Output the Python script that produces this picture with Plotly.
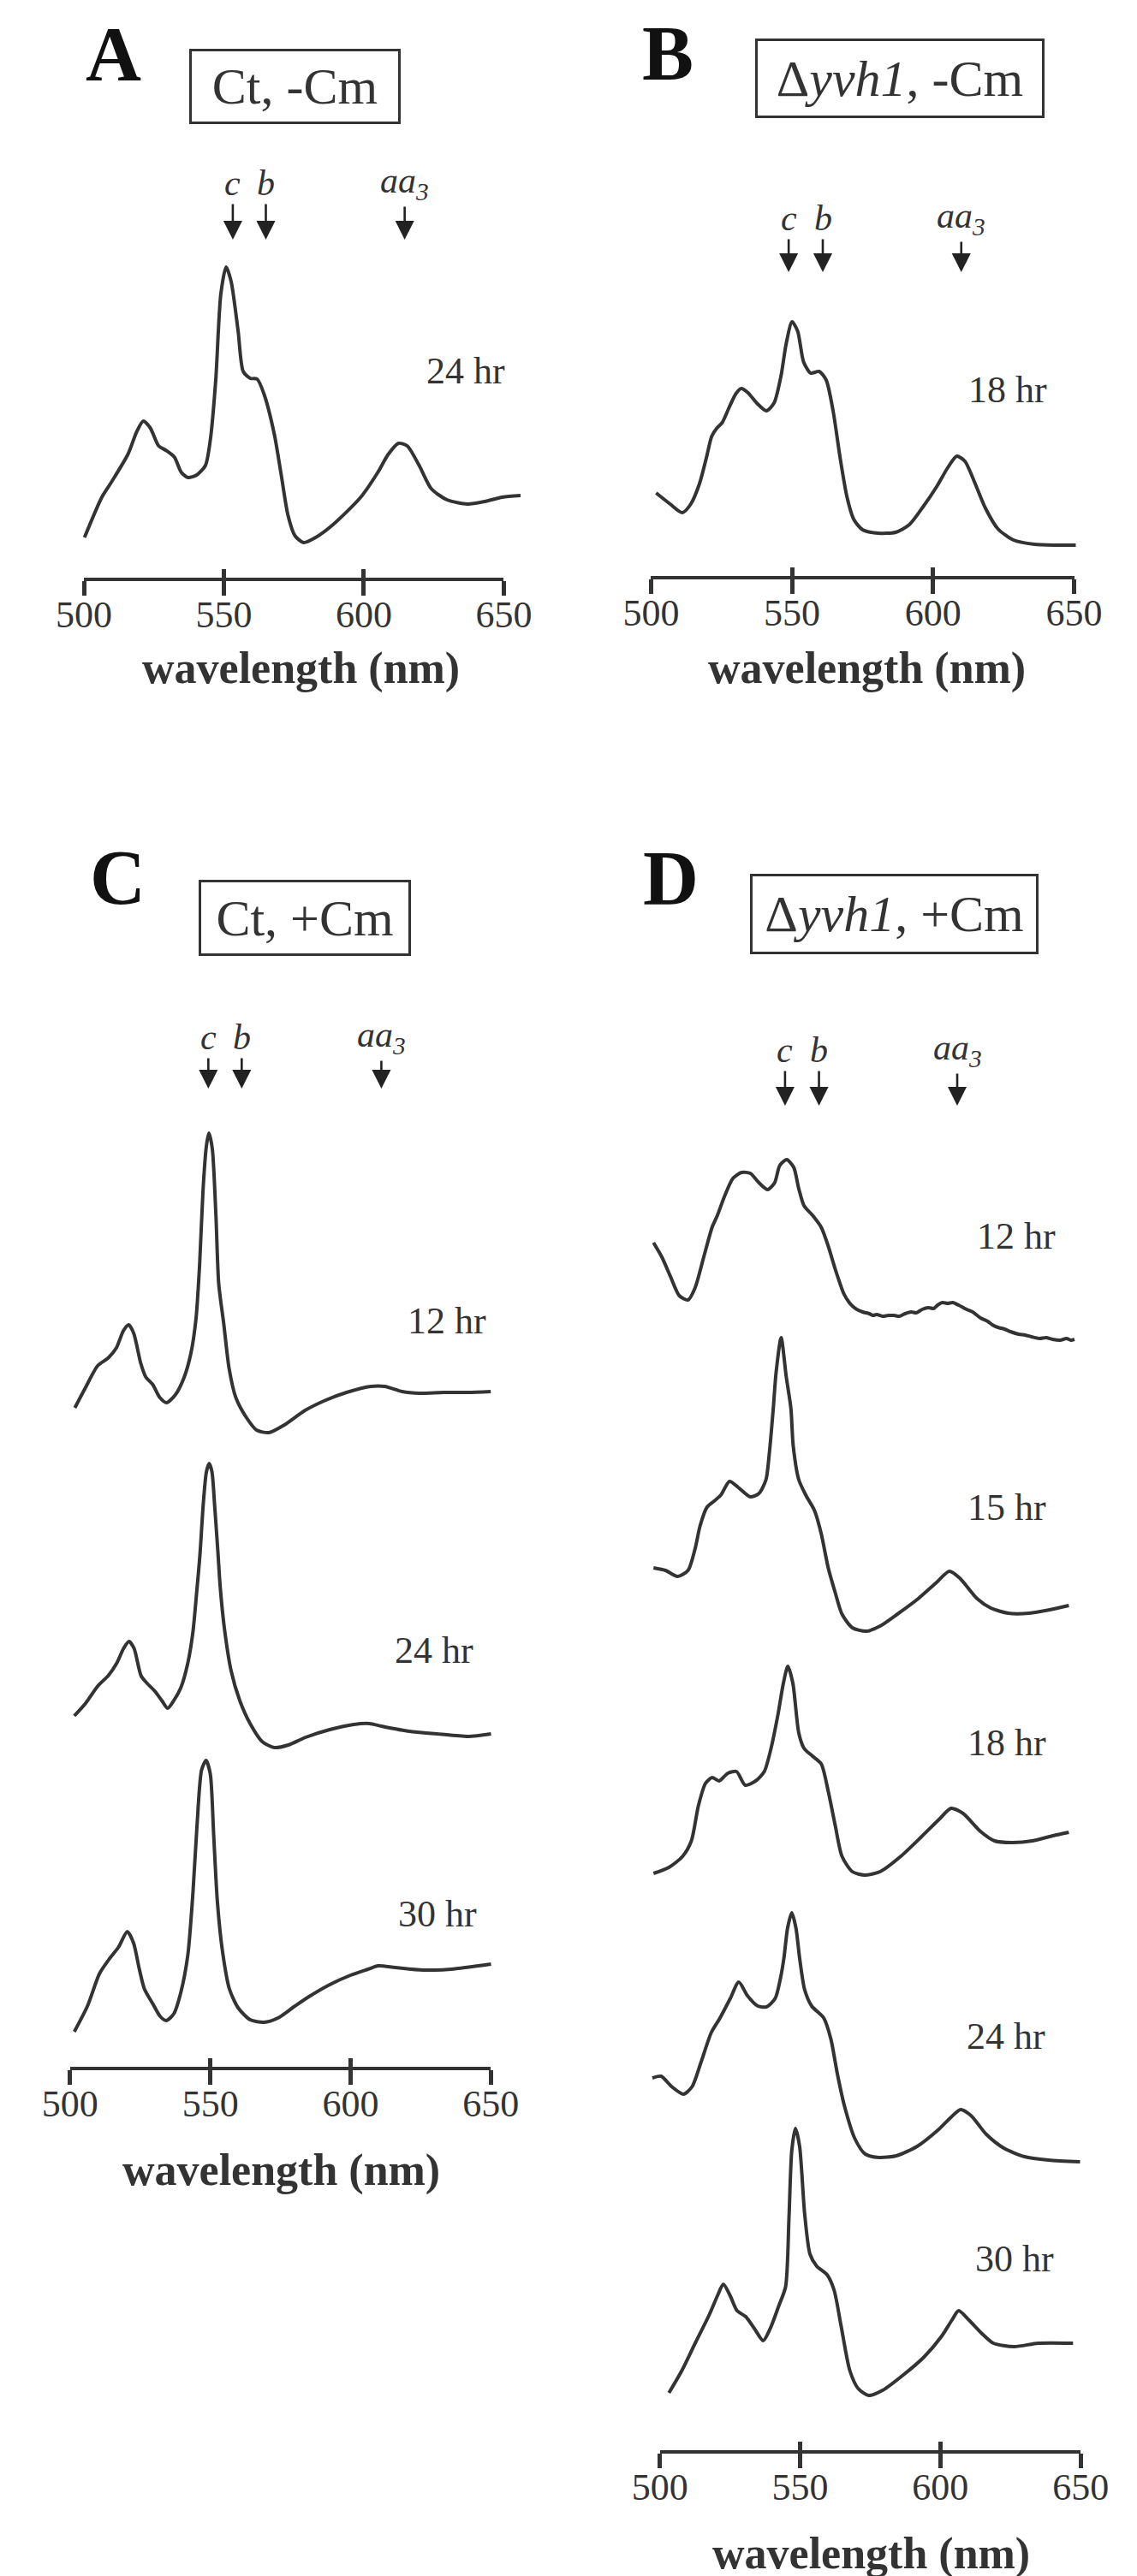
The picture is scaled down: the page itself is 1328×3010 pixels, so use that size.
import plotly.graph_objects as go

W, H = 1328, 3010
SERIF = "Liberation Serif, Times New Roman, serif"
INK = "#333333"

# ---------------- data ----------------
TICKS = [500, 550, 600, 650]
MARK_LABELS = ["<i>c</i>", "<i>b</i>", "<i>aa<sub>3</sub></i>"]

# Panel A : Ct, -Cm
A_TITLE = "Ct, -Cm"
A_MARKS = [553.2, 565.0, 614.6]
A_TIMES = ["24 hr"]
A24_WL = [500.2, 506.4, 509.5, 515.7, 518.8, 521.2, 523.7, 526.7, 529.2, 532.3, 534.8, 537.2, 540.3, 543.4,
          545.2, 547.1, 548.9, 550.8, 552.6, 555.1, 556.9, 559.4, 561.9, 564.3, 568.0, 570.5, 572.9, 575.4,
          578.5, 582.8, 589.0, 598.9, 605.0, 608.7, 612.4, 615.5, 619.8, 624.1, 629.7, 637.1, 643.2, 649.4, 656.0]
A24_ABS = [10, 57, 73, 107, 133, 146, 138, 117, 112, 104, 86, 80, 83, 94, 125, 194, 294, 326, 309, 251,
           204, 196, 195, 178, 131, 83, 36, 12, 4, 10, 25, 57, 86, 107, 120, 117, 94, 67, 54, 49, 52, 57, 59]

# Panel B : dyvh1, -Cm
B_TITLE = "\u0394<i>yvh1</i>, -Cm"
B_MARKS = [548.8, 560.9, 610.0]
B_TIMES = ["18 hr"]
B18_WL = [501.8, 506.8, 511.1, 514.1, 517.2, 519.7, 521.5, 523.4, 525.2, 527.7, 530.1, 532.0, 534.4, 537.5,
          540.9, 543.6, 546.1, 547.9, 550.0, 552.0, 554.1, 556.6, 559.6, 562.1, 564.6, 567.0, 569.5, 571.9,
          575.0, 580.5, 586.7, 591.6, 596.5, 601.4, 605.1, 608.4, 611.3, 614.9, 618.6, 623.0, 628.5, 635.9,
          643.3, 650.6]
B18_ABS = [67, 54, 44, 54, 78, 109, 133, 143, 149, 167, 183, 189, 184, 172, 163, 172, 204, 241, 267, 256,
           220, 207, 209, 199, 162, 109, 62, 36, 24, 20, 21, 30, 51, 75, 96, 110, 104, 78, 49, 25, 12, 7, 6, 6]

# Panel C : Ct, +Cm
C_TITLE = "Ct, +Cm"
C_MARKS = [549.3, 561.2, 611.0]
C_TIMES = ["12 hr", "24 hr", "30 hr"]
C12_WL = [501.7, 505.4, 509.8, 513.5, 516.5, 519.0, 520.9, 522.7, 525.2, 527.0, 529.5, 532.0, 534.4, 537.5,
          540.6, 543.1, 544.9, 546.2, 547.4, 548.6, 549.5, 550.7, 552.0, 553.0, 554.8, 556.7, 559.1, 562.8,
          566.5, 570.9, 576.4, 583.8, 591.2, 598.6, 607.3, 612.2, 618.4, 624.6, 633.2, 641.9, 650.0]
C12_ABS = [33, 56, 82, 91, 103, 123, 130, 120, 85, 69, 60, 45, 39, 48, 68, 97, 137, 201, 287, 339,
           354, 336, 258, 178, 131, 79, 45, 22, 7, 4, 13, 30, 42, 51, 58, 58, 52, 50, 51, 51, 52]
C24_WL = [501.5, 505.6, 509.9, 513.6, 516.7, 519.1, 521.0, 522.8, 525.3, 527.2, 530.2, 532.7, 534.8, 537.0,
          539.5, 542.0, 543.8, 545.1, 546.3, 547.5, 548.6, 549.6, 550.6, 551.5, 552.7, 553.5, 555.0, 557.4,
          560.5, 564.2, 568.5, 572.8, 577.8, 584.0, 592.6, 601.2, 606.8, 611.1, 621.0, 630.9, 642.0, 650.1]
C24_ABS = [43, 58, 78, 90, 105, 122, 130, 122, 90, 82, 72, 61, 52, 61, 76, 105, 141, 186, 231, 291,
           328, 338, 328, 291, 235, 195, 146, 96, 61, 34, 13, 6, 9, 18, 27, 33, 34, 31, 25, 22, 19, 22]
C30_WL = [501.5, 506.2, 510.5, 514.2, 517.3, 520.4, 522.6, 524.7, 526.5, 529.6, 532.1, 534.3, 537.0, 539.5,
          542.0, 543.8, 545.3, 546.9, 548.5, 550.0, 551.2, 552.5, 554.3, 556.8, 559.9, 564.2, 569.1, 574.1,
          580.2, 585.2, 592.6, 600.0, 606.2, 609.9, 616.0, 625.9, 635.8, 650.1]
C30_ABS = [4, 34, 72, 90, 103, 121, 108, 77, 54, 36, 22, 17, 25, 50, 94, 166, 247, 310, 321, 305,
           234, 157, 99, 54, 32, 18, 15, 20, 34, 45, 59, 70, 77, 81, 79, 76, 77, 83]

# Panel D : dyvh1, +Cm
D_TITLE = "\u0394<i>yvh1</i>, +Cm"
D_MARKS = [544.6, 556.7, 606.0]
D_TIMES = ["12 hr", "15 hr", "18 hr", "24 hr", "30 hr"]
D12_WL = [497.7, 500.7, 503.8, 506.9, 510.0, 512.5, 515.6, 518.6, 520.5, 523.0, 526.0, 529.1, 532.2, 535.3,
          538.4, 540.9, 542.7, 545.2, 547.7, 549.5, 551.4, 554.4, 557.5, 560.0, 562.5, 565.6, 567.5, 568.6,
          570.2, 572.3, 574.6, 576.0, 577.3, 579.3, 581.5, 583.5, 585.3, 587.4, 589.6, 591.4, 593.5, 595.8,
          597.6, 599.0, 600.7, 602.6, 604.4, 606.5, 609.4, 611.5, 614.3, 616.9, 618.5, 620.5, 622.8, 625.0,
          627.9, 630.2, 632.5, 635.3, 637.7, 640.0, 642.7, 645.0, 646.5, 647.8]
D12_ABS = [118, 101, 78, 56, 51, 65, 101, 136, 150, 172, 193, 200, 199, 188, 180, 188, 208, 215, 206, 181,
           161, 150, 136, 114, 87, 58, 48, 44, 40, 37, 35, 33, 34, 32, 33, 33, 32, 35, 37, 36,
           40, 42, 41, 45, 48, 47, 48, 45, 40, 37, 30, 26, 22, 19, 17, 14, 11, 10, 8, 6, 7, 5, 4, 6, 4, 5]
D15_WL = [497.7, 502.0, 506.3, 510.0, 512.5, 514.3, 516.8, 519.3, 521.7, 524.8, 527.9, 532.2, 535.3, 537.8,
          539.0, 540.4, 541.4, 543.2, 545.0, 546.7, 547.5, 549.5, 552.0, 555.1, 557.5, 560.0, 562.5, 564.9,
          568.6, 573.6, 578.5, 584.7, 592.1, 598.3, 603.2, 606.9, 613.1, 618.0, 624.2, 631.6, 639.0, 645.8]
D15_ABS = [78, 75, 68, 75, 100, 127, 149, 156, 163, 179, 172, 161, 165, 181, 212, 264, 306, 347, 302, 264,
           221, 181, 163, 145, 118, 78, 49, 24, 8, 4, 10, 24, 42, 60, 74, 66, 42, 31, 25, 25, 29, 34]
D18_WL = [497.7, 503.2, 508.1, 511.2, 513.7, 516.2, 518.6, 521.1, 524.2, 527.3, 530.4, 534.1, 537.2, 539.6,
          542.1, 544.0, 545.6, 547.4, 549.5, 551.4, 554.4, 557.5, 560.0, 562.5, 564.9, 568.6, 573.0, 578.5,
          585.9, 593.3, 599.5, 603.8, 608.1, 614.3, 619.3, 625.4, 632.8, 640.2, 645.8]
D18_ABS = [6, 13, 26, 44, 85, 111, 118, 114, 123, 125, 109, 114, 125, 152, 192, 228, 248, 228, 170, 152,
           143, 134, 102, 62, 26, 8, 4, 8, 26, 49, 69, 82, 76, 55, 44, 42, 44, 50, 54]
D24_WL = [497.3, 500.4, 504.1, 508.4, 511.5, 514.6, 518.3, 521.4, 525.1, 528.1, 531.2, 534.9, 538.0, 541.1,
          543.0, 544.2, 545.5, 547.0, 548.5, 549.8, 551.6, 554.1, 558.4, 560.9, 563.3, 565.8, 569.5, 573.2,
          578.1, 584.3, 591.7, 599.1, 604.1, 607.2, 610.9, 616.4, 622.6, 630.0, 638.6, 649.8]
D24_ABS = [102, 104, 92, 83, 92, 120, 155, 172, 195, 214, 198, 186, 185, 195, 219, 242, 277, 295, 277, 242,
           205, 186, 172, 148, 106, 69, 31, 13, 9, 11, 22, 41, 57, 65, 58, 36, 20, 10, 6, 4]
D30_WL = [503.2, 507.8, 512.7, 517.7, 520.7, 522.6, 525.1, 527.5, 530.6, 533.7, 536.8, 539.3, 542.3, 544.8,
          546.0, 547.0, 548.3, 549.8, 551.6, 553.5, 555.9, 559.6, 562.1, 564.6, 567.7, 570.7, 574.4, 579.4,
          586.8, 594.2, 600.4, 604.1, 606.5, 610.2, 615.2, 618.9, 626.3, 634.9, 647.3]
D30_ABS = [7, 33, 66, 99, 122, 134, 120, 103, 96, 82, 68, 82, 108, 131, 211, 290, 316, 295, 216, 169,
           155, 145, 127, 85, 33, 12, 4, 10, 28, 49, 73, 92, 103, 92, 75, 65, 61, 65, 65]

# ---------------- layout geometry (pixels) ----------------
PANELS = [
    dict(letter="A", title=A_TITLE, marks=A_MARKS, times=A_TIMES,
         spectra=[(A24_WL, A24_ABS)], bases=[630], time_xy=[(529, 426)],
         px500=60, px650=576, axis_y=667, letter_xy=(96, 56),
         box=(319, 93, 244, 85), mark_label_y=206, mark_tip_y=272, wl_xy=(327, 773)),
    dict(letter="B", title=B_TITLE, marks=B_MARKS, times=B_TIMES,
         spectra=[(B18_WL, B18_ABS)], bases=[635], time_xy=[(1195, 447)],
         px500=757, px650=1277, axis_y=665, letter_xy=(778, 55),
         box=(1063, 83, 335, 90), mark_label_y=247, mark_tip_y=310, wl_xy=(1022, 773)),
    dict(letter="C", title=C_TITLE, marks=C_MARKS, times=C_TIMES,
         spectra=[(C12_WL, C12_ABS), (C24_WL, C24_ABS), (C30_WL, C30_ABS)],
         bases=[1670, 2040, 2370], time_xy=[(506, 1536), (490, 1921), (495, 2228)],
         px500=43, px650=560, axis_y=2407, letter_xy=(102, 1017),
         box=(331, 1065, 245, 86), mark_label_y=1204, mark_tip_y=1264, wl_xy=(303, 2528)),
    dict(letter="D", title=D_TITLE, marks=D_MARKS, times=D_TIMES,
         spectra=[(D12_WL, D12_ABS), (D15_WL, D15_ABS), (D18_WL, D18_ABS), (D24_WL, D24_ABS), (D30_WL, D30_ABS)],
         bases=[1562, 1902, 2187, 2522, 2795],
         time_xy=[(1206, 1437), (1194, 1753), (1194, 2028), (1193, 2371), (1204, 2631)],
         px500=768, px650=1285, axis_y=2855, letter_xy=(781, 1018),
         box=(1056, 1060, 334, 91), mark_label_y=1219, mark_tip_y=1284, wl_xy=(1028, 2976)),
]

SPAN = 380          # vertical span (px) of each spectrum's y axis
XLO, XHI = 495, 660  # wavelength span of the spectrum axes


def fx(p):
    return p / W


def fy(p):
    return 1 - p / H


fig = go.Figure()
layout = {}
annotations = []
counters = {"x": 0, "y": 0}


def new(kind):
    counters[kind] += 1
    return counters[kind]


def key(kind, n):
    return f"{kind}axis" if n == 1 else f"{kind}axis{n}"


def ref(kind, n):
    return kind if n == 1 else f"{kind}{n}"


for P in PANELS:
    s = (P["px650"] - P["px500"]) / 150.0
    # spectra x axis
    xs = new("x")
    ys_list = [new("y") for _ in P["spectra"]]
    layout[key("x", xs)] = dict(domain=[fx(P["px500"] + (XLO - 500) * s), fx(P["px500"] + (XHI - 500) * s)],
                                range=[XLO, XHI], visible=False, anchor=ref("y", ys_list[0]))
    for (wl, ab), base, yn in zip(P["spectra"], P["bases"], ys_list):
        layout[key("y", yn)] = dict(domain=[fy(base), fy(base - SPAN)], range=[0, SPAN],
                                    visible=False, anchor=ref("x", xs))
        fig.add_trace(go.Scatter(x=wl, y=ab, xaxis=ref("x", xs), yaxis=ref("y", yn), mode="lines",
                                 line=dict(color=INK, width=4, shape="spline", smoothing=0.7),
                                 hoverinfo="skip", showlegend=False))
    # tick axis (500-650): one with downward ticks, one with upward ticks + labels
    xt = new("x")
    xt2 = new("x")
    yt = new("y")
    tick_common = dict(range=[500, 650], tickvals=TICKS, tickcolor=INK, tickwidth=4.5,
                       showgrid=False, zeroline=False, fixedrange=True)
    layout[key("x", xt)] = dict(domain=[fx(P["px500"]), fx(P["px650"])], anchor=ref("y", yt),
                                showline=True, linecolor=INK, linewidth=4, ticks="outside", ticklen=17,
                                showticklabels=False, **tick_common)
    layout[key("x", xt2)] = dict(overlaying=ref("x", xt), anchor=ref("y", yt), ticks="inside", ticklen=10,
                                 showline=False, showticklabels=True,
                                 ticktext=[str(t) for t in TICKS],
                                 tickfont=dict(family=SERIF, size=44, color=INK),
                                 ticklabelstandoff=13, **tick_common)
    layout[key("y", yt)] = dict(domain=[fy(P["axis_y"]), fy(P["axis_y"] - 20)], range=[0, 1],
                                visible=False, anchor=ref("x", xt))
    for xa in (xt, xt2):
        fig.add_trace(go.Scatter(x=TICKS, y=[0.5] * len(TICKS), xaxis=ref("x", xa), yaxis=ref("y", yt),
                                 mode="markers", marker=dict(opacity=0), hoverinfo="skip", showlegend=False))

    # panel letter
    lx, ly = P["letter_xy"]
    annotations.append(dict(text=f"<b>{P['letter']}</b>", x=fx(lx), y=fy(ly), xref="paper", yref="paper",
                            showarrow=False, xanchor="center", yanchor="middle",
                            font=dict(family=SERIF, size=90, color="#111111")))
    # boxed title
    bx, by, bw, bh = P["box"]
    pad, bwid = 4, 3
    annotations.append(dict(text=P["title"], x=fx(bx), y=fy(by), xref="paper", yref="paper",
                            showarrow=False, xanchor="center", yanchor="middle",
                            width=bw - 2 * pad - bwid, height=bh - 2 * pad - bwid, align="center", valign="middle",
                            bordercolor=INK, borderwidth=bwid, borderpad=pad, bgcolor="white",
                            font=dict(family=SERIF, size=60, color=INK)))
    # cytochrome markers with arrows
    for lab, wlm in zip(MARK_LABELS, P["marks"]):
        annotations.append(dict(text=lab, x=wlm, y=fy(P["mark_tip_y"]), xref=ref("x", xt), yref="paper",
                                showarrow=True, ax=0, ay=-(P["mark_tip_y"] - P["mark_label_y"]),
                                arrowhead=2, arrowsize=1.7, arrowwidth=2.6, arrowcolor="#222222",
                                font=dict(family=SERIF, size=42, color=INK)))
    # time labels
    for t, (tx, ty) in zip(P["times"], P["time_xy"]):
        annotations.append(dict(text=t, x=fx(tx), y=fy(ty), xref="paper", yref="paper", showarrow=False,
                                xanchor="center", yanchor="middle",
                                font=dict(family=SERIF, size=44, color=INK)))
    # x axis title
    wx, wy = P["wl_xy"]
    annotations.append(dict(text="<b>wavelength (nm)</b>", x=fx(wx), y=fy(wy), xref="paper", yref="paper",
                            showarrow=False, xanchor="center", yanchor="middle",
                            font=dict(family=SERIF, size=52, color=INK)))

layout.update(dict(width=W, height=H, margin=dict(l=0, r=0, t=0, b=0),
                   paper_bgcolor="white", plot_bgcolor="rgba(0,0,0,0)",
                   showlegend=False, annotations=annotations))
fig.update_layout(**layout)
fig.write_html("out.html")
